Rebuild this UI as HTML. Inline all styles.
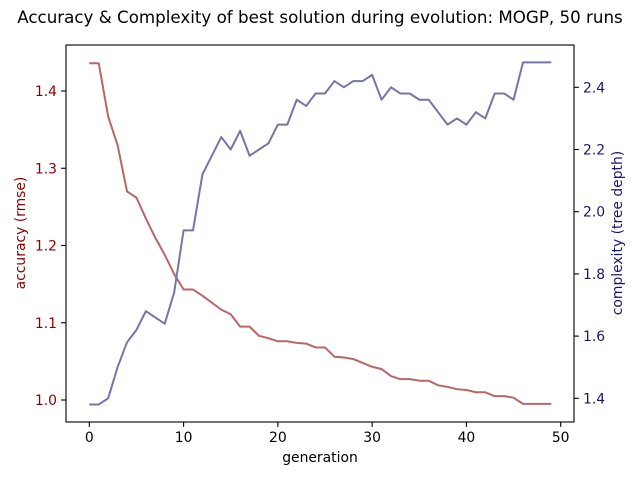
<!DOCTYPE html>
<html><head><meta charset="utf-8"><style>
body{margin:0;background:#fff}
svg{display:block;font-family:"DejaVu Sans","Liberation Sans",sans-serif}
</style></head><body>
<svg id="chart" width="640" height="480" viewBox="0 0 640 480" xmlns="http://www.w3.org/2000/svg">
<rect width="640" height="480" fill="#fff"/>
<text x="320" y="23" font-size="16.7" text-anchor="middle">Accuracy &amp; Complexity of best solution during evolution: MOGP, 50 runs</text>
<g id="plot"></g>
<text x="320" y="462" font-size="13.9" text-anchor="middle">generation</text>
<text transform="translate(25,233) rotate(-90)" font-size="13.9" text-anchor="middle" fill="#8b0000">accuracy (rmse)</text>
<text transform="translate(622,233) rotate(-90)" font-size="13.9" text-anchor="middle" fill="#191970">complexity (tree depth)</text>
</svg>
<script>
const generations = Array.from({length:50},(_,i)=>i);
const accuracy = [1.436,1.436,1.367,1.33,1.27,1.262,1.235,1.21,1.188,1.163,1.143,1.143,1.135,1.126,1.117,1.111,1.095,1.095,1.083,1.08,1.076,1.076,1.074,1.073,1.068,1.068,1.056,1.055,1.053,1.048,1.043,1.04,1.031,1.027,1.027,1.025,1.025,1.019,1.017,1.014,1.013,1.01,1.01,1.005,1.005,1.003,0.995,0.995,0.995,0.995];
const complexity = [1.38,1.38,1.40,1.50,1.58,1.62,1.68,1.66,1.64,1.74,1.94,1.94,2.12,2.18,2.24,2.20,2.26,2.18,2.20,2.22,2.28,2.28,2.36,2.34,2.38,2.38,2.42,2.40,2.42,2.42,2.44,2.36,2.40,2.38,2.38,2.36,2.36,2.32,2.28,2.30,2.28,2.32,2.30,2.38,2.38,2.36,2.48,2.48,2.48,2.48];
const xTicks = [0,10,20,30,40,50];
const leftTicks = [1.0,1.1,1.2,1.3,1.4];
const rightTicks = [1.4,1.6,1.8,2.0,2.2,2.4];

const NS="http://www.w3.org/2000/svg";
const L=66,R=574,T=45,B=422;
const xS=v=>89.3+(v-0)*(560.7-89.3)/50;
const yL=v=>400-(v-1.0)*(400-91)/0.4;
const yR=v=>398.3-(v-1.4)*(398.3-87.3)/1.0;
const plot=document.getElementById('plot');
function mk(tag,attrs,parent){const e=document.createElementNS(NS,tag);for(const k in attrs)e.setAttribute(k,attrs[k]);(parent||plot).appendChild(e);return e;}

const red=mk('polyline',{points:generations.map((g,i)=>xS(g)+','+yL(accuracy[i])).join(' '),fill:'none',stroke:'#b96666','stroke-width':2,'stroke-linejoin':'round'});


const blue=mk('polyline',{points:generations.map((g,i)=>xS(g)+','+yR(complexity[i])).join(' '),fill:'none',stroke:'#7575a9','stroke-width':2,'stroke-linejoin':'round'});



const frame=mk('rect',{x:L,y:T,width:R-L,height:B-T,fill:'none',stroke:'#000','stroke-width':1.1});



xTicks.forEach(v=>{const x=xS(v);
 mk('line',{x1:x,x2:x,y1:B,y2:B+4.9,stroke:'#000','stroke-width':1.1});
 const t=mk('text',{x:x,y:B+20,'font-size':13.9,'text-anchor':'middle'});t.textContent=v;
 
 
});
leftTicks.forEach(v=>{const y=yL(v);
 mk('line',{x1:L-4.9,x2:L,y1:y,y2:y,stroke:'#000','stroke-width':1.1});
 const t=mk('text',{x:L-9,y:y+5,'font-size':13.9,'text-anchor':'end',fill:'#8b0000'});t.textContent=v.toFixed(1);
 
 
});
rightTicks.forEach(v=>{const y=yR(v);
 mk('line',{x1:R,x2:R+4.9,y1:y,y2:y,stroke:'#000','stroke-width':1.1});
 const t=mk('text',{x:R+9,y:y+5,'font-size':13.9,'text-anchor':'start',fill:'#191970'});t.textContent=v.toFixed(1);
 
 
});
</script>
</body></html>
